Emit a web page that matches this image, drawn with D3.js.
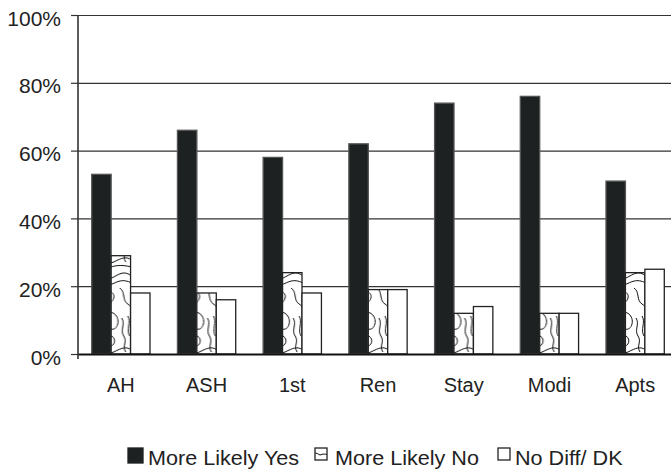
<!DOCTYPE html>
<html>
<head>
<meta charset="utf-8">
<script src="https://cdn.jsdelivr.net/npm/d3@7"></script>
<style>
  html, body { margin: 0; padding: 0; background: #fff; }
  svg { display: block; }
  text { font-family: "Liberation Sans", Arial, sans-serif; fill: #222; }
</style>
</head>
<body>
<svg id="chart" width="671" height="470"></svg>
<script>
// Survey responses per housing program (percent of respondents)
const categories = ["AH", "ASH", "1st", "Ren", "Stay", "Modi", "Apts"];
const moreLikelyYes = [53, 66, 58, 62, 74, 76, 51];
const moreLikelyNo = [29, 18, 24, 19, 12, 12, 24];
const noDiffDK = [18, 16, 18, 19, 14, 12, 25];
const seriesNames = ["More Likely Yes", "More Likely No", "No Diff/ DK"];
const yTicks = [0, 20, 40, 60, 80, 100];

const seriesValues = [moreLikelyYes, moreLikelyNo, noDiffDK];
const rows = categories.map((c, i) => ({
  category: c,
  values: seriesNames.map((s, k) => ({ series: s, value: seriesValues[k][i] }))
}));

const svg = d3.select("#chart");
const plot = { left: 78, right: 678, top: 15, bottom: 354 };

// contour-line texture for the "More Likely No" series
const defs = svg.append("defs");
const pat = defs.append("pattern")
  .attr("id", "contour")
  .attr("patternUnits", "userSpaceOnUse")
  .attr("width", 40).attr("height", 90);
pat.append("rect").attr("width", 40).attr("height", 90).attr("fill", "#fff");
const contourPaths = [
  "M0,6 C8,2 12,12 20,8 S32,0 40,6",
  "M0,12 C6,9 10,18 18,15 S30,8 40,13",
  "M6,26 C10,18 24,20 22,28 C20,36 8,36 6,26 Z",
  "M10,27 C12,23 19,24 18,28 C17,32 11,32 10,27 Z",
  "M28,18 C34,22 30,30 36,34 S40,40 40,42",
  "M0,40 C6,44 4,50 10,52 S16,62 8,66 S2,70 0,72",
  "M14,44 C20,39 28,46 26,54 C24,62 16,60 14,54 C12,49 12,47 14,44 Z",
  "M30,48 C34,54 28,60 32,66 S30,76 34,82",
  "M36,46 C40,52 34,60 38,66",
  "M20,66 C25,69 23,77 17,76 C12,75 14,68 20,66 Z",
  "M0,80 C8,76 14,86 22,82 S34,76 40,80",
  "M0,86 C6,84 10,90 16,88 S28,84 40,87"
];
pat.selectAll("path").data(contourPaths).join("path")
  .attr("d", d => d)
  .attr("fill", "none")
  .attr("stroke", "#111")
  .attr("stroke-width", 1);

const x = d3.scaleBand()
  .domain(categories)
  .range([plot.left, plot.right])
  .paddingInner(0.32)
  .paddingOuter(0.16);

const xs = d3.scaleBand()
  .domain(seriesNames)
  .range([0, x.bandwidth()]);

const y = d3.scaleLinear()
  .domain([0, 100])
  .range([plot.bottom, plot.top]);

const fills = {
  "More Likely Yes": "#1e2121",
  "More Likely No": "url(#contour)",
  "No Diff/ DK": "#fff"
};
const strokes = {
  "More Likely Yes": "#555",
  "More Likely No": "#222",
  "No Diff/ DK": "#222"
};

// horizontal gridlines
svg.append("g")
  .attr("transform", `translate(${plot.left},0)`)
  .call(d3.axisLeft(y).tickValues(yTicks.filter(t => t > 0))
    .tickSize(-(plot.right - plot.left)).tickFormat(""))
  .call(g => g.select(".domain").remove())
  .call(g => g.selectAll(".tick line").attr("stroke", "#333").attr("stroke-width", 1.2));

// bars
const groups = svg.append("g").selectAll("g")
  .data(rows).join("g")
  .attr("transform", d => `translate(${x(d.category)},0)`);

groups.selectAll("rect")
  .data(d => d.values).join("rect")
  .attr("x", d => xs(d.series))
  .attr("y", d => y(d.value))
  .attr("width", xs.bandwidth())
  .attr("height", d => y(0) - y(d.value))
  .attr("fill", d => fills[d.series])
  .attr("stroke", d => strokes[d.series])
  .attr("stroke-width", 1.3);

// y axis with percent labels
const yAxis = svg.append("g")
  .attr("transform", `translate(${plot.left},0)`)
  .call(d3.axisLeft(y).tickValues(yTicks).tickFormat(d => d + "%").tickSize(7).tickPadding(10));
yAxis.select(".domain").attr("stroke", "#333").attr("stroke-width", 1.6)
  .attr("d", `M0,${plot.top}V${plot.bottom + 5}`);
yAxis.selectAll(".tick line").attr("stroke", "#333").attr("stroke-width", 1.2);
yAxis.selectAll(".tick text")
  .attr("font-size", 21)
  .attr("dy", "0.67em")
  .attr("y", -4)
  .style("fill", "#222");

// baseline and category labels
const xAxis = svg.append("g")
  .attr("transform", `translate(0,${plot.bottom})`)
  .call(d3.axisBottom(x).tickSize(0).tickPadding(24));
xAxis.select(".domain").attr("stroke", "#111").attr("stroke-width", 2.2);
xAxis.selectAll(".tick text").attr("font-size", 20).style("fill", "#222");

// legend
const legend = svg.append("g").attr("transform", "translate(0,465)");
const legendItems = [
  { name: seriesNames[0], sx: 128, size: 15, tx: 148 },
  { name: seriesNames[1], sx: 315, size: 12, tx: 335 },
  { name: seriesNames[2], sx: 498, size: 12, tx: 515 }
];
legendItems.forEach(item => {
  legend.append("rect")
    .attr("x", item.sx)
    .attr("y", -17)
    .attr("width", item.size)
    .attr("height", item.size)
    .attr("fill", fills[item.name])
    .attr("stroke", item.name === seriesNames[0] ? "#1e2121" : "#222")
    .attr("stroke-width", 1.3);
  legend.append("text")
    .attr("x", item.tx)
    .attr("y", 0)
    .attr("font-size", 20)
    .attr("transform", `translate(${item.tx},0) scale(1.08,1) translate(${-item.tx},0)`)
    .text(item.name);
});
</script>
</body>
</html>
